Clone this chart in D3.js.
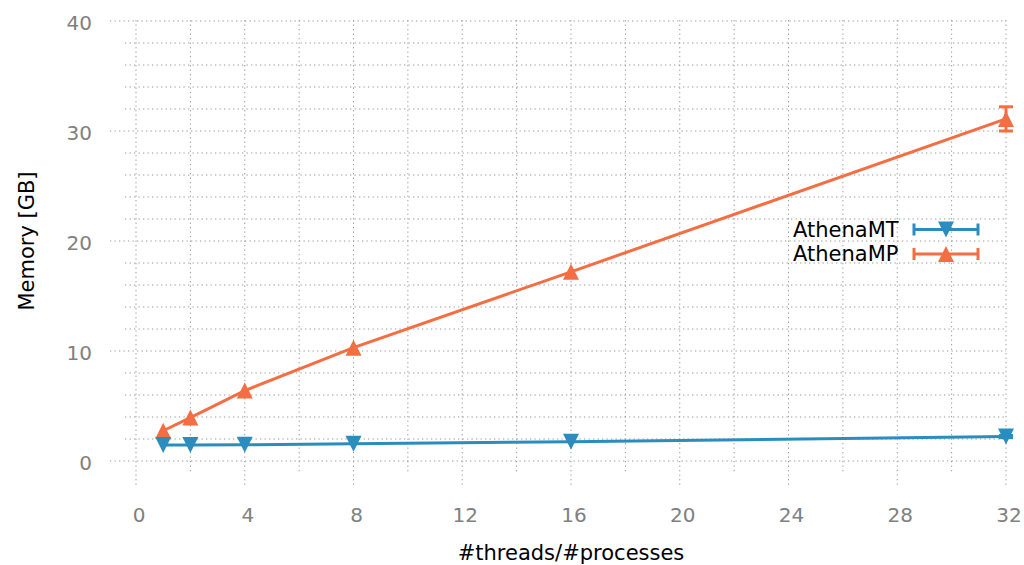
<!DOCTYPE html>
<html><head><meta charset="utf-8">
<script src="https://cdn.jsdelivr.net/npm/d3@7/dist/d3.min.js"></script>
<style>body{margin:0;background:#fff}svg{display:block}text{font-family:"DejaVu Sans",sans-serif}</style>
</head><body><svg id="c" width="1024" height="565"></svg>
<script>
const threads = [1, 2, 4, 8, 16, 32];
const seriesNames = ["AthenaMT", "AthenaMP"];
const mtValues = [1.45, 1.45, 1.48, 1.56, 1.75, 2.22];
const mtErrors = [0, 0, 0, 0, 0, 0.1];
const mpValues = [2.75, 3.95, 6.4, 10.3, 17.2, 31.1];
const mpErrors = [0, 0, 0, 0, 0, 1.1];
const xTicks = [0, 4, 8, 12, 16, 20, 24, 28, 32];
const yTicks = [0, 10, 20, 30, 40];
const xGrid = d3.range(0, 33, 2);
const yGrid = d3.range(0, 41, 2);
const colors = {AthenaMT: "#2b8cbe", AthenaMP: "#f46d43"};

const svg = d3.select("#c");
const x = d3.scaleLinear().domain([0, 32]).range([136, 1006]);
const y = d3.scaleLinear().domain([0, 40]).range([461, 21]);

// grid
const g = svg.append("g").attr("stroke", "#999").attr("stroke-width", 1).attr("stroke-dasharray", "1.3,3.2");
g.selectAll(".vg").data(xGrid).join("line")
  .attr("x1", d => x(d)).attr("x2", d => x(d))
  .attr("y1", 20).attr("y2", d => d % 4 === 0 ? 487 : 472);
g.selectAll(".hg").data(yGrid).join("line")
  .attr("y1", d => y(d)).attr("y2", d => y(d))
  .attr("x1", d => d % 10 === 0 ? 110 : 125).attr("x2", 1006);

// axes
const xa = svg.append("g").attr("transform", "translate(0,508)")
  .call(d3.axisBottom(x).tickValues(xTicks).tickSize(0).tickPadding(0));
xa.select(".domain").remove();
xa.selectAll("text").attr("font-size", 20).attr("fill", "#808080").attr("dx", 2.5)
  .style("font-family", "DejaVu Sans");
const ya = svg.append("g").attr("transform", "translate(92,0)")
  .call(d3.axisLeft(y).tickValues(yTicks).tickSize(0).tickPadding(0));
ya.select(".domain").remove();
ya.selectAll("text").attr("font-size", 20).attr("fill", "#808080").attr("dy", "0.4em")
  .style("font-family", "DejaVu Sans");

svg.append("text").attr("x", 571).attr("y", 560).attr("text-anchor", "middle")
  .attr("font-size", 21).attr("fill", "#000").text("#threads/#processes");
svg.append("text").attr("transform", "translate(34,241) rotate(-90)").attr("text-anchor", "middle")
  .attr("font-size", 21).attr("fill", "#000").text("Memory [GB]");

const s = 8;
function tri(up) {
  return up ? `M0,${-s}L${-s},${s}L${s},${s}Z` : `M0,${s}L${-s},${-s}L${s},${-s}Z`;
}

function drawSeries(name, vals, errs, up) {
  const col = colors[name];
  const data = threads.map((t, i) => ({t, v: vals[i], e: errs[i]}));
  const gs = svg.append("g");
  gs.append("path").datum(data)
    .attr("d", d3.line().x(d => x(d.t)).y(d => y(d.v)))
    .attr("fill", "none").attr("stroke", col).attr("stroke-width", 3);
  const eb = gs.selectAll(".eb").data(data.filter(d => d.e > 0)).join("g");
  eb.append("line").attr("x1", d => x(d.t)).attr("x2", d => x(d.t))
    .attr("y1", d => y(d.v - d.e)).attr("y2", d => y(d.v + d.e)).attr("stroke", col).attr("stroke-width", 3);
  [-1, 1].forEach(k => eb.append("line").attr("x1", d => x(d.t) - 7).attr("x2", d => x(d.t) + 7)
    .attr("y1", d => y(d.v + k * d.e)).attr("y2", d => y(d.v + k * d.e)).attr("stroke", col).attr("stroke-width", 3));
  gs.selectAll(".m").data(data).join("path")
    .attr("transform", d => `translate(${x(d.t)},${y(d.v)})`)
    .attr("d", tri(up)).attr("fill", col);
}
drawSeries("AthenaMP", mpValues, mpErrors, true);
drawSeries("AthenaMT", mtValues, mtErrors, false);

// legend
const leg = svg.append("g");
seriesNames.forEach((name, i) => {
  const ly = 229.5 + i * 24.5;
  const col = colors[name];
  leg.append("text").attr("x", 793).attr("y", ly + 7).attr("font-size", 21).attr("fill", "#000").text(name);
  leg.append("line").attr("x1", 914).attr("x2", 978).attr("y1", ly).attr("y2", ly).attr("stroke", col).attr("stroke-width", 3);
  [914, 978].forEach(cx => leg.append("line").attr("x1", cx).attr("x2", cx).attr("y1", ly - 6).attr("y2", ly + 6).attr("stroke", col).attr("stroke-width", 3));
  leg.append("path").attr("transform", `translate(946,${ly})`).attr("d", tri(i === 1)).attr("fill", col);
});
</script></body></html>
